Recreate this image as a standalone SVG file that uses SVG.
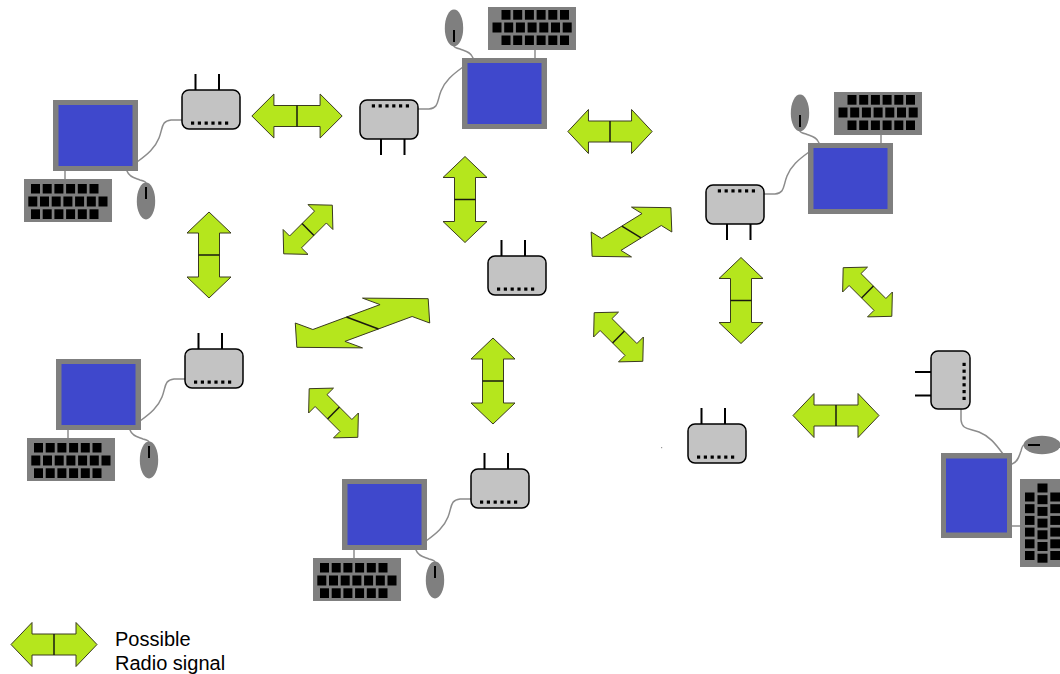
<svg xmlns="http://www.w3.org/2000/svg" xmlns:xlink="http://www.w3.org/1999/xlink" width="1060" height="674" viewBox="0 0 1060 674">
  <style>
    .case { fill: #7f7f7f; }
    .screen { fill: #3f48cc; }
    .key { fill: #000; }
    .cable { fill: none; stroke: #8c8c8c; stroke-width: 1.5; stroke-linecap: round; }
    .router { fill: #c3c3c3; stroke: #000; stroke-width: 1.5; }
    .antenna { stroke: #000; stroke-width: 2; }
    .arrow { fill: #b5e61d; stroke: #3a3a20; stroke-width: 1; stroke-linejoin: miter; vector-effect: non-scaling-stroke; }
    .arrow-mid { stroke: #1a1a10; stroke-width: 1.5; vector-effect: non-scaling-stroke; }
    .legend { font-family: "Liberation Sans", Arial, sans-serif; font-size: 20px; fill: #000; }
  </style>
  <defs>
    <!-- Double-headed radio arrow, centred on the origin, pointing along x -->
    <g id="dbl-arrow">
      <polygon class="arrow" points="-43,0 -22,-22 -22,-10.5 22,-10.5 22,-22 43,0 22,22 22,10.5 -22,10.5 -22,22"/>
      <line class="arrow-mid" x1="0" y1="-10.5" x2="0" y2="10.5"/>
    </g>

    <!-- Keyboard: 88 x 43 with three rows of keys -->
    <g id="keyboard">
      <rect class="case" x="0" y="0" width="88" height="43"/>
      <g class="key">
        <rect x="7" y="5" width="9" height="9.5"/>
        <rect x="18.7" y="5" width="9" height="9.5"/>
        <rect x="30.4" y="5" width="9" height="9.5"/>
        <rect x="42.1" y="5" width="9" height="9.5"/>
        <rect x="53.8" y="5" width="9" height="9.5"/>
        <rect x="65.5" y="5" width="9" height="9.5"/>

        <rect x="4.3" y="17.5" width="9" height="10"/>
        <rect x="16" y="17.5" width="9" height="10"/>
        <rect x="27.7" y="17.5" width="9" height="10"/>
        <rect x="39.4" y="17.5" width="9" height="10"/>
        <rect x="51.1" y="17.5" width="9" height="10"/>
        <rect x="62.8" y="17.5" width="9" height="10"/>
        <rect x="74.5" y="17.5" width="9" height="10"/>

        <rect x="7" y="30.3" width="9" height="9.7"/>
        <rect x="18.7" y="30.3" width="9" height="9.7"/>
        <rect x="30.4" y="30.3" width="9" height="9.7"/>
        <rect x="42.1" y="30.3" width="9" height="9.7"/>
        <rect x="53.8" y="30.3" width="9" height="9.7"/>
        <rect x="65.5" y="30.3" width="9" height="9.7"/>
      </g>
    </g>

    <!-- Monitor: 85 x 71 frame with blue screen -->
    <g id="monitor">
      <rect class="case" x="0" y="0" width="85" height="71"/>
      <rect class="screen" x="5.5" y="5" width="74" height="61"/>
    </g>

    <!-- Mouse, centred on the origin -->
    <g id="mouse">
      <ellipse class="case" cx="0" cy="0" rx="9.2" ry="18.5"/>
      <line x1="0" y1="-14" x2="0" y2="-2" stroke="#000" stroke-width="2"/>
    </g>

    <!-- Wireless router: 58 x 39 body, antennas on top, LEDs along the bottom -->
    <g id="wifi-router">
      <line class="antenna" x1="13.5" y1="-16" x2="13.5" y2="12"/>
      <line class="antenna" x1="37" y1="-16" x2="37" y2="12"/>
      <rect class="router" x="0" y="0" width="58" height="39" rx="7" ry="7"/>
      <g fill="#000">
        <rect x="9" y="31.5" width="3.2" height="3.2"/>
        <rect x="15.8" y="31.5" width="3.2" height="3.2"/>
        <rect x="22.6" y="31.5" width="3.2" height="3.2"/>
        <rect x="29.4" y="31.5" width="3.2" height="3.2"/>
        <rect x="36.2" y="31.5" width="3.2" height="3.2"/>
        <rect x="43" y="31.5" width="3.2" height="3.2"/>
      </g>
    </g>

    <!-- Complete workstation: monitor at the origin, keyboard, mouse and router -->
    <g id="workstation">
      <path class="cable" d="M84,62 C95,54 102,48 106,38 C110,28 108,21 118,20 L129,20"/>
      <path class="cable" d="M74,71 C76,77 82,78 87,80 C91,81 93,82 93,83"/>
      <line x1="12" y1="71" x2="12" y2="79" stroke="#8c8c8c" stroke-width="1.5"/>
      <use xlink:href="#monitor"/>
      <use xlink:href="#keyboard" x="-29" y="79"/>
      <use xlink:href="#mouse" x="93" y="101"/>
      <use xlink:href="#wifi-router" x="129" y="-10"/>
    </g>
  </defs>

  <rect width="1060" height="674" fill="#fff"/>

  <!-- Workstations -->
  <g id="pc-top-left" transform="translate(53,100)">
    <use xlink:href="#workstation"/>
  </g>
  <g id="pc-top-centre" transform="translate(547,129) rotate(180)">
    <use xlink:href="#workstation"/>
  </g>
  <g id="pc-top-right" transform="translate(893,214) rotate(180)">
    <use xlink:href="#workstation"/>
  </g>
  <g id="pc-bottom-left" transform="translate(56,359)">
    <use xlink:href="#workstation"/>
  </g>
  <g id="pc-bottom-centre" transform="translate(342,479)">
    <use xlink:href="#workstation"/>
  </g>
  <g id="pc-right" transform="translate(941,538) rotate(-90)">
    <use xlink:href="#workstation"/>
  </g>

  <!-- Stand-alone routers -->
  <g id="router-centre">
    <use xlink:href="#wifi-router" x="488" y="256"/>
  </g>
  <g id="router-lower-right">
    <use xlink:href="#wifi-router" x="688" y="424"/>
    <rect x="661" y="447" width="1.2" height="1.2" fill="#9a9a9a"/>
  </g>

  <!-- Radio links -->
  <g id="links">
    <use xlink:href="#dbl-arrow" transform="translate(297,116) scale(1.05,1)"/>
    <use xlink:href="#dbl-arrow" transform="translate(610,131.5) scale(0.98,1)"/>
    <use xlink:href="#dbl-arrow" transform="translate(836,415.5)"/>

    <use xlink:href="#dbl-arrow" transform="translate(209,255) rotate(90)"/>
    <use xlink:href="#dbl-arrow" transform="translate(465,199.5) rotate(90)"/>
    <use xlink:href="#dbl-arrow" transform="translate(741,300.5) rotate(90)"/>
    <use xlink:href="#dbl-arrow" transform="translate(493,381) rotate(90)"/>

    <use xlink:href="#dbl-arrow" transform="translate(308,229.5) rotate(-45) scale(0.8)"/>
    <use xlink:href="#dbl-arrow" transform="translate(867.5,292) rotate(45) scale(0.8)"/>
    <use xlink:href="#dbl-arrow" transform="translate(618.5,337) rotate(45) scale(0.8)"/>
    <use xlink:href="#dbl-arrow" transform="translate(333.5,413) rotate(45) scale(0.8)"/>

    <use xlink:href="#dbl-arrow" transform="translate(631.5,232) scale(1.62,1) rotate(-45) scale(0.8)"/>
    <use xlink:href="#dbl-arrow" transform="translate(362.5,323) scale(2.7,1) rotate(-45) scale(0.8)"/>
  </g>

  <!-- Legend -->
  <g id="legend">
    <use xlink:href="#dbl-arrow" transform="translate(54,644.5)"/>
    <text class="legend" x="115" y="646">Possible</text>
    <text class="legend" x="115" y="670">Radio signal</text>
  </g>
</svg>
